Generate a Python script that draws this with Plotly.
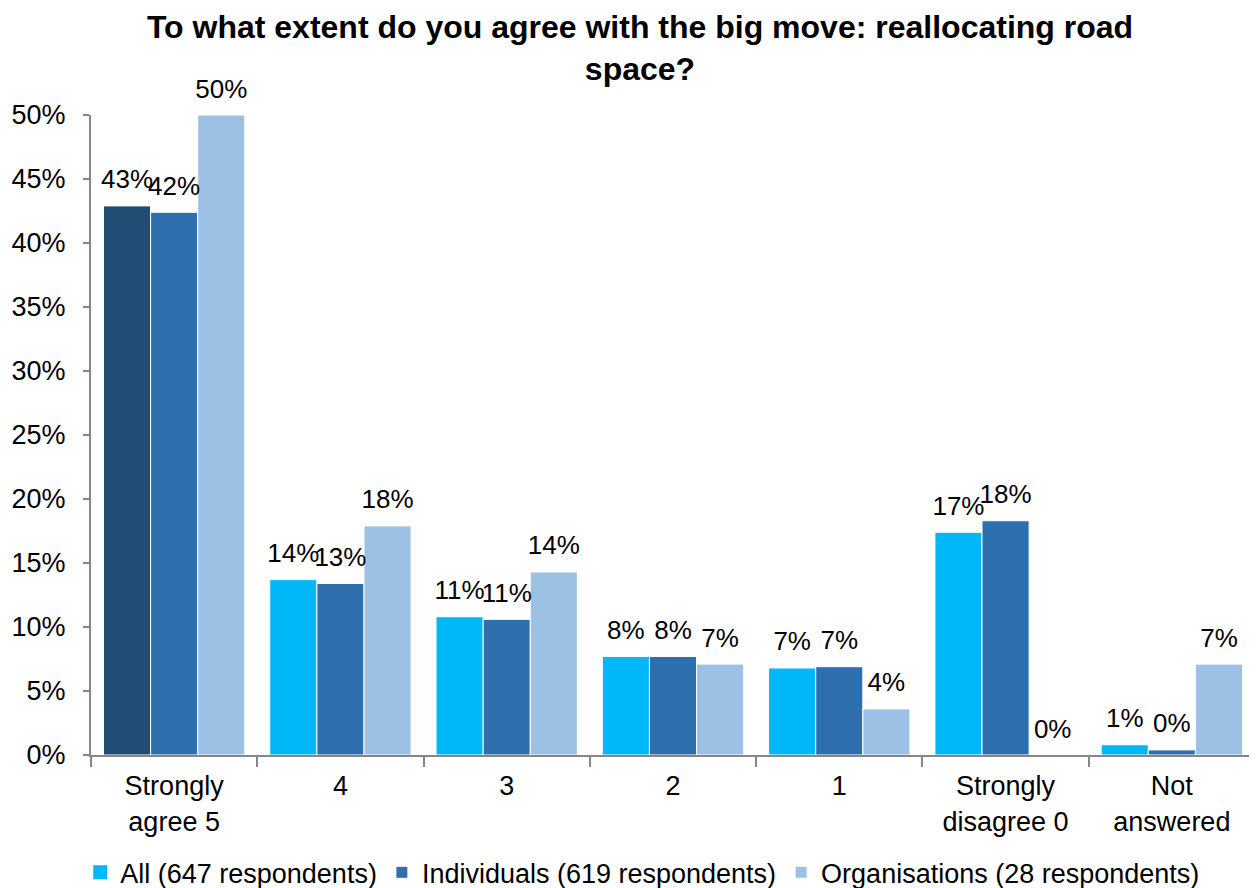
import plotly.graph_objects as go

categories = ["Strongly<br>agree 5", "4", "3", "2", "1", "Strongly<br>disagree 0", "Not<br>answered"]
all_vals = [42.9, 13.7, 10.8, 7.7, 6.8, 17.4, 0.8]
ind_vals = [42.4, 13.4, 10.6, 7.7, 6.9, 18.3, 0.4]
org_vals = [50.0, 17.9, 14.3, 7.1, 3.6, 0.0, 7.1]
series_names = ["All (647 respondents)", "Individuals (619 respondents)", "Organisations (28 respondents)"]
y_ticks = [0, 5, 10, 15, 20, 25, 30, 35, 40, 45, 50]

c_all = "#00B8F8"
c_ind = "#2E70AD"
c_org = "#9DC1E4"
c_first = "#214C74"

FONT = "Liberation Sans, Arial, sans-serif"

# the page body has an 8px default margin, so the figure is sized/offset to compensate
W, H = 1249, 880
GAP = 0.15

fig = go.Figure()
all_colors = [c_first] + [c_all] * (len(categories) - 1)
series = [(series_names[0], all_vals, all_colors),
          (series_names[1], ind_vals, c_ind),
          (series_names[2], org_vals, c_org)]
for i, (name, vals, col) in enumerate(series):
    fig.add_trace(go.Bar(
        name=name, x=categories, y=[v / 100 for v in vals],
        marker=dict(color=col, line=dict(color="white", width=1)),
        offsetgroup=str(i), alignmentgroup="a",
        showlegend=(i != 0), legendrank=i + 1,
    ))
# value labels: invisible grouped markers carrying the text, aligned with the bars
for i, (name, vals, col) in enumerate(series):
    fig.add_trace(go.Scatter(
        x=categories, y=[v / 100 for v in vals], mode="markers+text",
        text=[f"{round(v)}%" for v in vals], textposition="top center",
        textfont=dict(family=FONT, size=26, color="black"),
        marker=dict(size=16, opacity=0), offsetgroup=str(i), alignmentgroup="a",
        showlegend=False, hoverinfo="skip", cliponaxis=False,
    ))
# legend swatch for "All" uses cyan (first bar is highlighted navy)
fig.add_trace(go.Scatter(name=series_names[0], x=[None], y=[None], mode="markers",
                         marker=dict(color=c_all, symbol="square", size=14),
                         showlegend=True, legendrank=1))

fig.update_layout(
    barmode="group", bargap=GAP, bargroupgap=0,
    scattermode="group", scattergap=GAP,
    width=W, height=H,
    margin=dict(l=83, r=2, t=107, b=133, autoexpand=False),
    paper_bgcolor="white", plot_bgcolor="white",
    font=dict(family=FONT, size=27, color="black"),
    title=dict(text="<b>To what extent do you agree with the big move: reallocating road<br>space?</b>",
               x=(640 - 8) / W, xanchor="center", yref="container", y=1 - 30 / H, yanchor="middle",
               font=dict(family=FONT, size=32, color="black")),
    legend=dict(orientation="h", x=0.474, xanchor="center", y=-0.184, yanchor="middle",
                font=dict(family=FONT, size=27), traceorder="normal", itemwidth=30),
    showlegend=True,
)
fig.update_yaxes(range=[0, 0.5], tickvals=[t / 100 for t in y_ticks],
                 ticktext=[f"{t}%" for t in y_ticks], automargin=False,
                 showgrid=False, showline=True, linecolor="#868686", linewidth=2,
                 ticks="outside", ticklen=6, tickcolor="#868686", tickwidth=2,
                 ticklabelstandoff=12,
                 tickfont=dict(family=FONT, size=27), zeroline=False)
fig.update_xaxes(showline=True, linecolor="#868686", linewidth=2, automargin=False,
                 ticks="outside", ticklen=10, tickcolor="#868686", tickwidth=2,
                 tickson="boundaries", ticklabelstandoff=6,
                 tickfont=dict(family=FONT, size=27))
fig.write_html("out.html")
